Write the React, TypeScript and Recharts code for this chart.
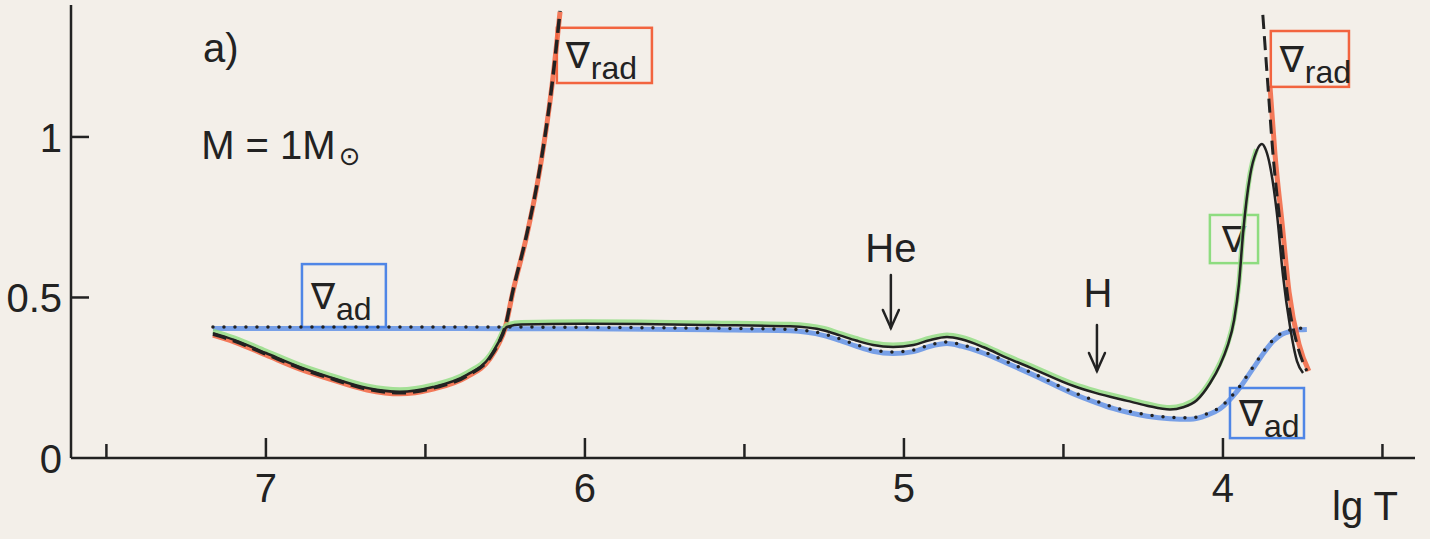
import React from "react";
import {
  Line,
  LineChart,
  ReferenceArea,
  ReferenceDot,
  ReferenceLine,
  XAxis,
  YAxis,
} from "recharts";

// lg T ticks (half-unit marks, labels on integers)
const lgTTicks = [3.5, 4, 4.5, 5, 5.5, 6, 6.5, 7, 7.5];
const gradTicks = [0, 0.5, 1];

// actual gradient  ∇  [lgT, value]
const nabla = [
  [7.166, 0.389], [7.1, 0.368], [7.0, 0.327], [6.893, 0.283], [6.8, 0.252],
  [6.683, 0.218], [6.58, 0.206], [6.476, 0.221], [6.37, 0.259], [6.298, 0.315],
  [6.27, 0.362], [6.245, 0.408], [6.2, 0.416], [6.0, 0.418], [5.828, 0.417],
  [5.6, 0.414], [5.357, 0.41], [5.25, 0.397], [5.201, 0.382], [5.15, 0.366],
  [5.097, 0.352], [5.034, 0.346], [4.97, 0.352], [4.92, 0.367], [4.865, 0.377],
  [4.82, 0.37], [4.75, 0.345], [4.677, 0.312], [4.6, 0.28], [4.47, 0.225],
  [4.4, 0.203], [4.3, 0.178], [4.238, 0.163], [4.166, 0.151], [4.125, 0.158],
  [4.082, 0.18], [4.041, 0.232], [4.009, 0.29], [3.987, 0.345], [3.965, 0.43],
  [3.95, 0.54], [3.937, 0.7], [3.915, 0.88], [3.895, 0.955], [3.878, 0.978],
  [3.865, 0.958], [3.853, 0.913], [3.831, 0.763], [3.812, 0.57], [3.79, 0.411],
  [3.768, 0.302], [3.749, 0.265],
];

// adiabatic gradient  ∇ad
const nablaAd = [
  [7.166, 0.408], [6.8, 0.408], [6.4, 0.408], [6.0, 0.407], [5.6, 0.404],
  [5.357, 0.401], [5.25, 0.386], [5.201, 0.371], [5.15, 0.353], [5.097, 0.337],
  [5.034, 0.33], [4.97, 0.336], [4.92, 0.352], [4.865, 0.361], [4.82, 0.353],
  [4.75, 0.331], [4.677, 0.3], [4.6, 0.266], [4.47, 0.205], [4.4, 0.178],
  [4.345, 0.159], [4.238, 0.135], [4.166, 0.127], [4.103, 0.125], [4.05, 0.138],
  [4.009, 0.158], [3.956, 0.212], [3.906, 0.283], [3.87, 0.335], [3.843, 0.368],
  [3.815, 0.39], [3.79, 0.399], [3.76, 0.404], [3.737, 0.405],
];

// radiative gradient  ∇rad, interior part and outer part
const nablaRadCore = [
  [7.166, 0.389], [7.1, 0.368], [7.0, 0.327], [6.893, 0.283], [6.8, 0.252],
  [6.683, 0.218], [6.58, 0.206], [6.476, 0.221], [6.37, 0.259], [6.298, 0.315],
  [6.27, 0.362], [6.251, 0.408], [6.226, 0.523], [6.182, 0.701], [6.141, 0.907],
  [6.103, 1.168], [6.078, 1.396],
];
const nablaRadEnv = [
  [3.875, 1.38], [3.859, 1.159], [3.843, 0.944], [3.821, 0.732], [3.799, 0.517],
  [3.768, 0.355], [3.737, 0.271],
];

const toPoints = (arr: number[][]) => arr.map(([lgT, v]) => ({ lgT, v }));

const RED = "#f2643f";
const GREEN = "#8edc80";
const BLUE = "#4f86e6";
const INK = "#222";
const PAPER = "#f3efe9";
const FONT = "'Liberation Sans', Arial, sans-serif";

// label boxes (data coordinates)
const boxes = [
  { x1: 6.088, x2: 5.79, y1: 1.168, y2: 1.34, sub: "rad", color: RED },
  { x1: 3.85, x2: 3.605, y1: 1.156, y2: 1.33, sub: "rad", color: RED },
  { x1: 4.041, x2: 3.89, y1: 0.607, y2: 0.757, sub: "", color: GREEN },
  { x1: 3.978, x2: 3.746, y1: 0.062, y2: 0.218, sub: "ad", color: BLUE },
  { x1: 6.887, x2: 6.624, y1: 0.408, y2: 0.604, sub: "ad", color: BLUE },
];

const notes = [
  { x: 7.197, y: 1.234, text: "a)", sun: false },
  { x: 7.203, y: 0.93, text: "M = 1M", sun: true },
  { x: 5.041, y: 0.611, text: "He", anchor: "middle", sun: false },
  { x: 4.392, y: 0.47, text: "H", anchor: "middle", sun: false },
  { x: 3.658, y: -0.193, text: "lg T", sun: false },
];

const arrows = [
  { x: 5.041, from: 0.57, to: 0.405 },
  { x: 4.395, from: 0.414, to: 0.271 },
];

const XTick = (props: any) => {
  const { x, y, payload } = props;
  const major = Number.isInteger(payload.value);
  return (
    <g>
      <line x1={x} x2={x} y1={y} y2={y - (major ? 20 : 14)} stroke={INK} strokeWidth={2.5} />
      {major && (
        <text x={x} y={y + 44} textAnchor="middle" fontSize={40} fontFamily={FONT} fill={INK}>
          {payload.value}
        </text>
      )}
    </g>
  );
};

const YTick = (props: any) => {
  const { x, y, payload } = props;
  return (
    <g>
      {payload.value > 0 && (
        <line x1={x} x2={x + 18} y1={y} y2={y} stroke={INK} strokeWidth={2.5} />
      )}
      <text x={x - 9} y={y + 15} textAnchor="end" fontSize={40} fontFamily={FONT} fill={INK}>
        {payload.value}
      </text>
    </g>
  );
};

const boxShape = (sub: string, color: string) => (props: any) => {
  const { x, y, width, height } = props;
  const cy = y + height / 2;
  const nx = sub ? x + 9 : x + width / 2;
  return (
    <g>
      <rect x={x} y={y} width={width} height={height} fill="none" stroke={color} strokeWidth={2.5} />
      <text
        x={nx}
        y={cy + 13}
        fontSize={36}
        fontFamily="'DejaVu Sans', sans-serif"
        fill={INK}
        textAnchor={sub ? "start" : "middle"}
      >
        {"\u2207"}
      </text>
      {sub && (
        <text x={nx + 25} y={cy + 24} fontSize={32} fontFamily={FONT} fill={INK}>
          {sub}
        </text>
      )}
    </g>
  );
};

const arrowShape = (props: any) => {
  const { x1, y1, x2, y2 } = props;
  return (
    <g stroke={INK} strokeWidth={2.5} fill="none" strokeLinecap="round">
      <line x1={x1} y1={y1} x2={x2} y2={y2} />
      <polyline points={`${x2 - 8},${y2 - 18} ${x2},${y2} ${x2 + 8},${y2 - 18}`} />
    </g>
  );
};

export default function App() {
  return (
    <div style={{ position: "absolute", left: 0, top: 0, width: 1430, height: 539, background: PAPER }}>
      <LineChart width={1430} height={539} margin={{ top: 5, right: 15, bottom: 0, left: 0 }}>
        <XAxis
          type="number"
          dataKey="lgT"
          domain={[3.398, 7.611]}
          reversed
          allowDataOverflow
          ticks={lgTTicks}
          interval={0}
          height={81}
          tickSize={0}
          tickMargin={0}
          tickLine={false}
          tick={<XTick />}
          axisLine={{ stroke: INK, strokeWidth: 2.5 }}
        />
        <YAxis
          type="number"
          domain={[0, 1.411]}
          allowDataOverflow
          ticks={gradTicks}
          interval={0}
          width={71}
          tickSize={0}
          tickMargin={0}
          tickLine={false}
          tick={<YTick />}
          axisLine={{ stroke: INK, strokeWidth: 2.5 }}
        />

        {boxes.map((b, i) => (
          <ReferenceArea
            key={"box" + i}
            x1={b.x1}
            x2={b.x2}
            y1={b.y1}
            y2={b.y2}
            shape={boxShape(b.sub, b.color)}
          />
        ))}

        {/* coloured pen under the black lines, a little off the ink */}
        <Line data={toPoints(nablaAd)} dataKey="v" type="monotone" stroke={BLUE} strokeWidth={5} strokeOpacity={0.75} transform="translate(0 1.5)" dot={false} activeDot={false} isAnimationActive={false} />
        <Line data={toPoints(nablaRadCore)} dataKey="v" type="monotone" stroke={RED} strokeWidth={5} strokeOpacity={0.85} transform="translate(0 2)" dot={false} activeDot={false} isAnimationActive={false} />
        <Line data={toPoints(nablaRadEnv.slice(1))} dataKey="v" type="monotone" stroke={RED} strokeWidth={5} strokeOpacity={0.85} transform="translate(2 0)" dot={false} activeDot={false} isAnimationActive={false} />
        <Line data={toPoints(nabla.filter((p) => p[0] >= 3.88))} dataKey="v" type="monotone" stroke={GREEN} strokeWidth={5} strokeOpacity={0.8} transform="translate(0 -2)" dot={false} activeDot={false} isAnimationActive={false} />

        {/* black ink */}
        <Line data={toPoints(nabla)} dataKey="v" type="monotone" stroke={INK} strokeWidth={2.5} dot={false} activeDot={false} isAnimationActive={false} />
        <Line data={toPoints(nablaRadCore)} dataKey="v" type="monotone" stroke={INK} strokeWidth={3.5} strokeDasharray="14 7" transform="translate(0 1)" dot={false} activeDot={false} isAnimationActive={false} />
        <Line data={toPoints(nablaRadEnv)} dataKey="v" type="monotone" stroke={INK} strokeWidth={3} strokeDasharray="14 7" dot={false} activeDot={false} isAnimationActive={false} />
        <Line data={toPoints(nablaAd)} dataKey="v" type="monotone" stroke={INK} strokeWidth={3.5} strokeDasharray="0 11" strokeLinecap="round" dot={false} activeDot={false} isAnimationActive={false} />

        {arrows.map((a, i) => (
          <ReferenceLine
            key={"arr" + i}
            segment={[{ x: a.x, y: a.from }, { x: a.x, y: a.to }]}
            shape={arrowShape}
          />
        ))}

        {notes.map((n, i) => (
          <ReferenceDot
            key={"note" + i}
            x={n.x}
            y={n.y}
            r={0}
            ifOverflow="visible"
            shape={(p: any) => (
              <text x={p.cx} y={p.cy} fontSize={40} fontFamily={FONT} fill={INK} textAnchor={n.anchor || "start"}>
                {n.text}
                {n.sun && (
                  <tspan fontSize={26} dx={3} dy={6} fontFamily="'DejaVu Sans', sans-serif">
                    {"\u2299"}
                  </tspan>
                )}
              </text>
            )}
          />
        ))}
      </LineChart>
    </div>
  );
}
